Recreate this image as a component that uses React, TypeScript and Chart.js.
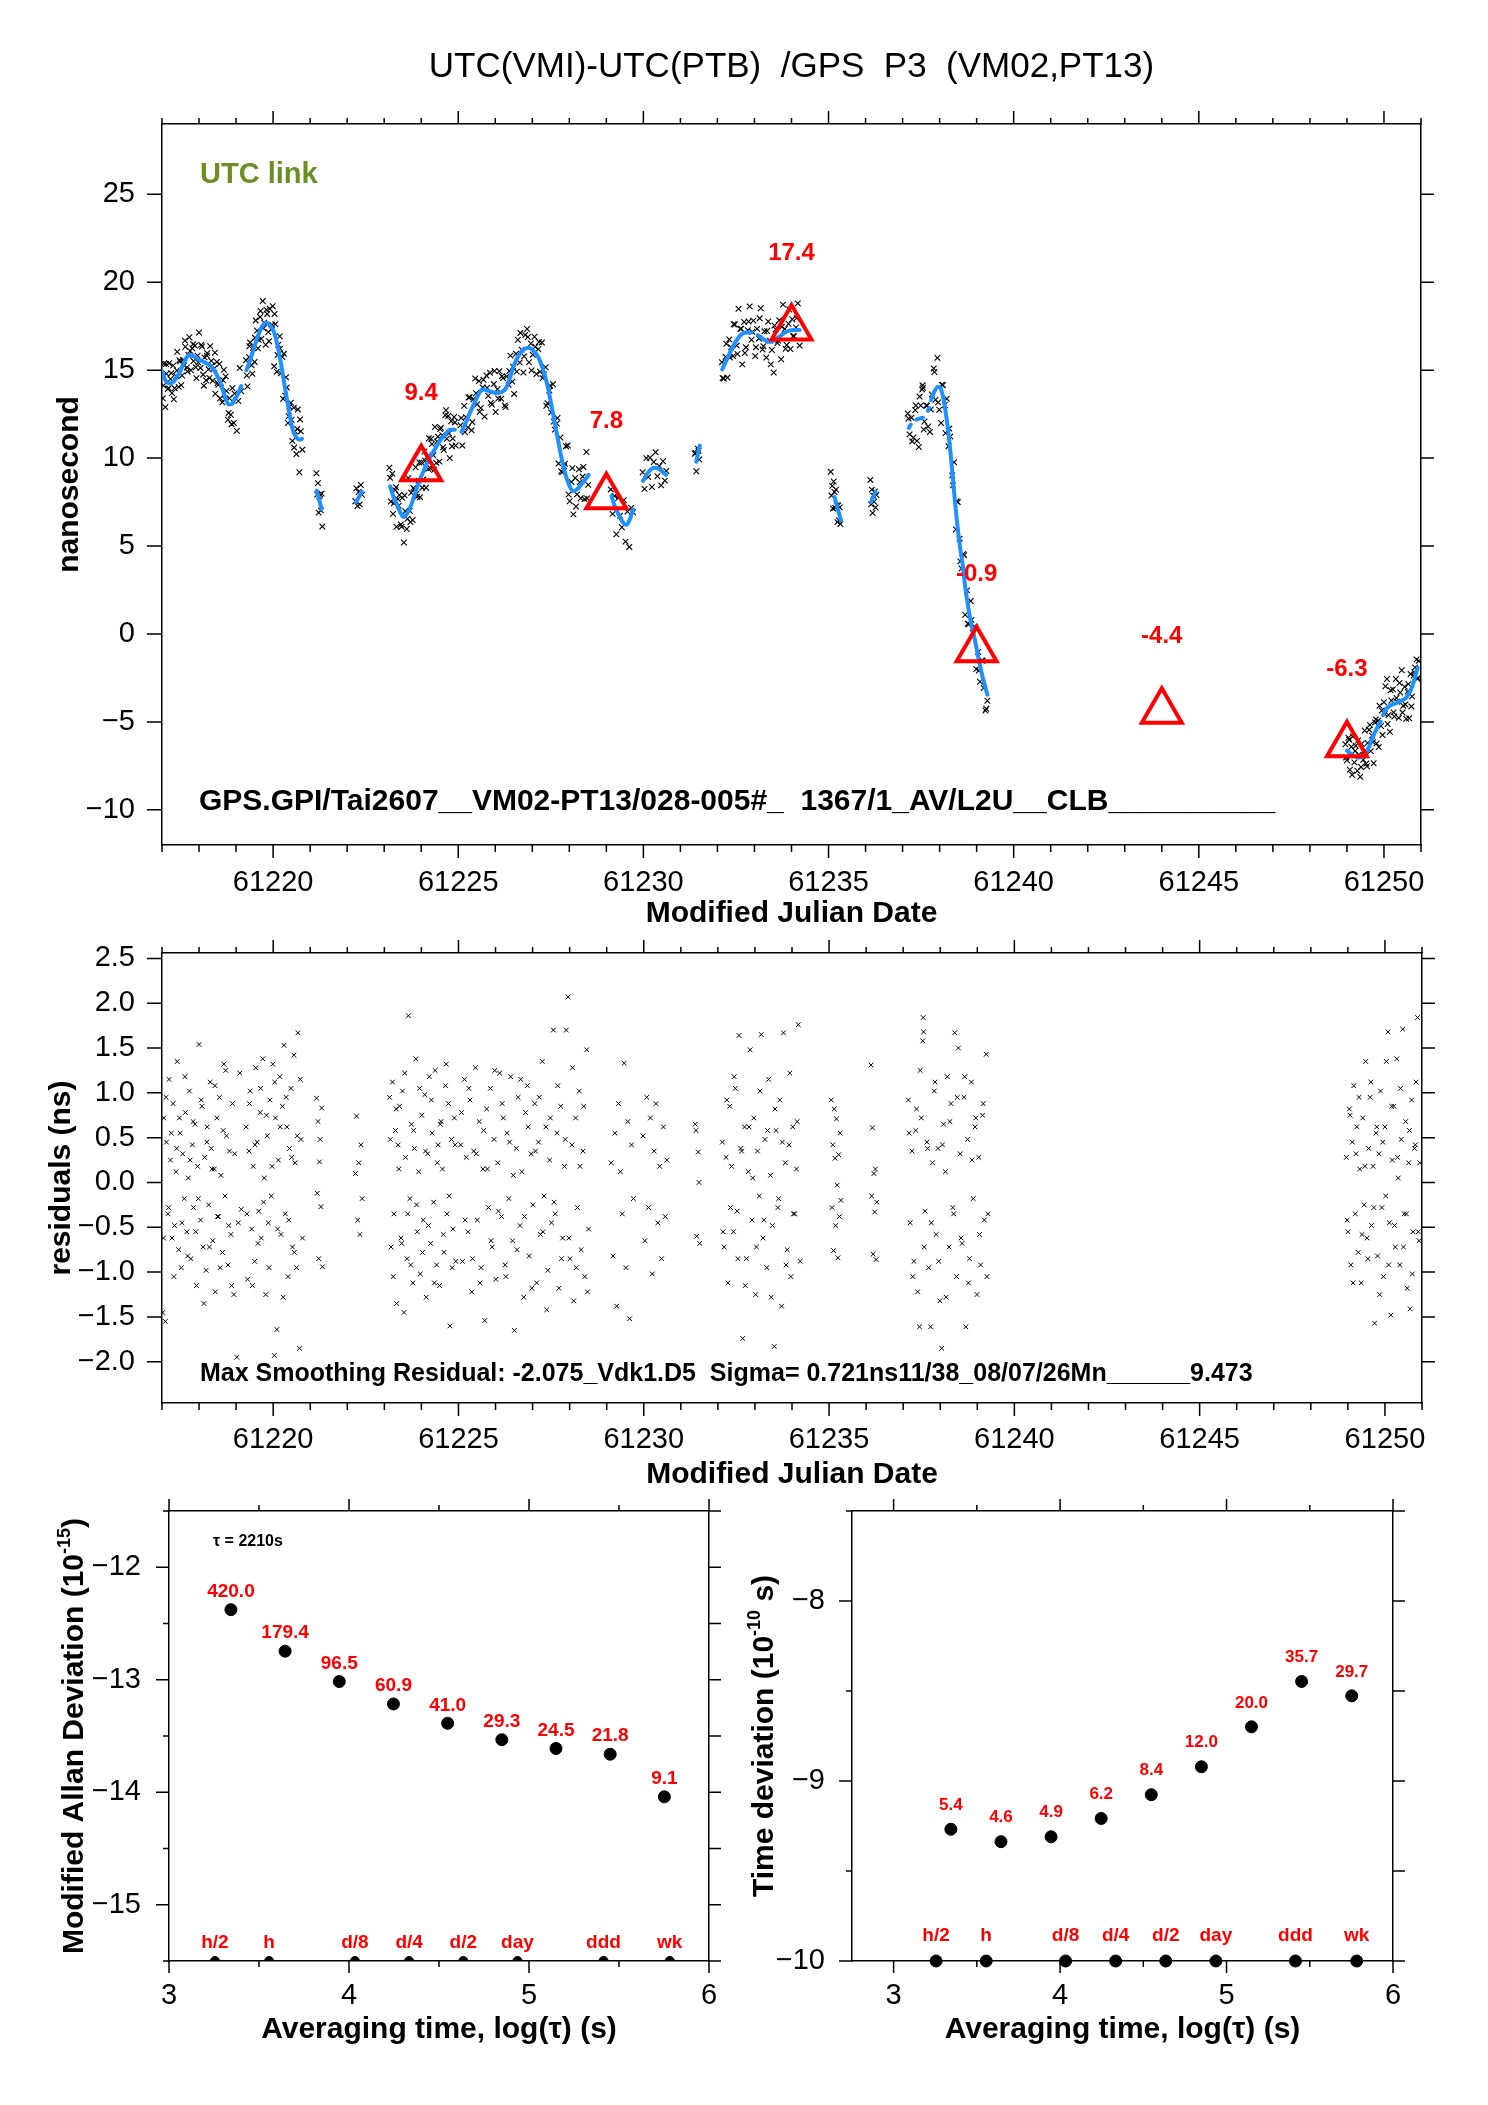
import React, { useEffect, useRef } from 'react';
import { Chart, registerables } from 'chart.js';

Chart.register(...registerables);

const FONT = "'Liberation Sans', Arial, Helvetica, sans-serif";
const RED = '#ff0000';
const BLUE = '#1e90ff';
const GREEN = '#6b8e23';

// ---------------- axis ticks ----------------
const mjdLabelTicks = [61220, 61225, 61230, 61235, 61240, 61245, 61250];
const mjdDayTicks = [61217, 61218, 61219, 61220, 61221, 61222, 61223, 61224, 61225, 61226, 61227, 61228, 61229, 61230, 61231, 61232, 61233, 61234, 61235, 61236, 61237, 61238, 61239, 61240, 61241, 61242, 61243, 61244, 61245, 61246, 61247, 61248, 61249, 61250, 61251];
const nsLabelTicks = [-10, -5, 0, 5, 10, 15, 20, 25];
const residLabelTicks = [-2.0, -1.5, -1.0, -0.5, 0.0, 0.5, 1.0, 1.5, 2.0, 2.5];
const logTauLabelTicks = [3, 4, 5, 6];
const logTauMinorTicks = [3.5, 4.5, 5.5];
const adevLabelTicks = [-15, -14, -13, -12];
const adevMinorTicks = [-15.5, -14.5, -13.5, -12.5, -11.5];
const tdevLabelTicks = [-10, -9, -8];
const tdevMinorTicks = [-9.5, -8.5, -7.5];

// ---------------- texts ----------------
const titleText = 'UTC(VMI)-UTC(PTB)  /GPS  P3  (VM02,PT13)';
const linkText = 'UTC link';
const footerText = 'GPS.GPI/Tai2607__VM02-PT13/028-005#_  1367/1_AV/L2U__CLB__________';
const residText = 'Max Smoothing Residual: -2.075_Vdk1.D5  Sigma= 0.721ns11/38_08/07/26Mn______9.473';
const tauText = '\u03c4 = 2210s';

// ---------------- observations: [MJD, raw (ns), smoothing residual (ns)] ----------------
const segA = [[61217.02,13.40,-1.45],[61217.05,15.37,0.72],[61217.09,12.90,-1.55],[61217.12,14.80,0.45],[61217.16,13.93,-0.35],[61217.19,15.40,1.15],[61217.23,14.50,0.25],[61217.27,13.70,-0.62],[61217.30,15.26,0.88],[61217.34,13.97,-0.48],[61217.38,14.67,0.12],[61217.41,16.05,1.35],[61217.45,14.05,-0.75],[61217.49,15.50,0.55],[61217.52,14.15,-0.95],[61217.56,15.57,0.32],[61217.60,15.27,-0.18],[61217.63,16.33,0.78],[61217.67,15.15,-0.55],[61217.71,15.87,0.05],[61217.74,16.87,1.02],[61217.78,15.00,-0.85],[61217.82,16.24,0.42],[61217.85,15.52,-0.28],[61217.89,16.40,0.65],[61217.93,14.55,-1.15],[61217.96,15.83,0.18],[61218.00,17.14,1.54],[61218.04,15.13,-0.42],[61218.08,16.35,0.85],[61218.11,14.75,-0.72],[61218.15,15.73,0.28],[61218.19,14.42,-0.98],[61218.22,15.97,0.62],[61218.26,15.05,-0.25],[61218.30,16.37,1.12],[61218.33,15.53,0.38],[61218.37,14.40,-0.65],[61218.41,15.10,0.15],[61218.44,13.66,-1.22],[61218.48,15.47,0.72],[61218.52,14.17,-0.38],[61218.55,15.35,0.95],[61218.59,14.28,0.08],[61218.63,13.17,-0.78],[61218.67,15.02,1.32],[61218.70,13.35,-0.15],[61218.74,13.82,0.52],[61218.78,12.18,-0.92],[61218.82,13.40,0.35],[61218.86,12.47,-0.58],[61218.90,13.98,0.88],[61218.94,12.00,-1.25]];
const segA2 = [[61219.02,11.55,-1.95],[61219.06,13.25,-0.45],[61219.10,15.12,1.22],[61219.14,13.80,-0.30]];
const segB = [[61219.27,15.57,0.62],[61219.31,14.07,-1.08],[61219.35,15.75,0.35],[61219.38,16.57,1.02],[61219.42,15.28,-0.52],[61219.46,16.28,0.18],[61219.50,15.47,-0.88],[61219.53,17.83,1.28],[61219.57,17.25,0.45],[61219.61,16.73,-0.32],[61219.65,18.03,0.78],[61219.68,16.78,-0.62],[61219.72,18.93,1.38],[61219.76,17.70,0.05],[61219.80,16.45,-1.25],[61219.84,18.20,0.52],[61219.87,17.17,-0.45],[61219.91,18.49,0.92],[61219.95,17.33,-0.15],[61219.99,18.64,1.32],[61220.03,15.22,-1.93],[61220.06,17.62,0.72],[61220.10,14.91,-1.64],[61220.14,16.45,0.25],[61220.18,16.93,1.18],[61220.21,14.82,-0.58],[61220.25,15.75,0.85],[61220.29,15.93,1.53],[61220.33,13.55,-0.35],[61220.37,14.02,0.62],[61220.40,12.00,-1.05],[61220.44,12.93,0.38],[61220.48,13.15,1.05],[61220.52,10.98,-0.72],[61220.56,12.87,1.42],[61220.59,11.52,0.22],[61220.63,10.23,-0.95],[61220.67,12.77,1.67],[61220.71,9.20,-1.85],[61220.75,11.53,0.48],[61220.79,10.48,-0.62]];
const segC = [[61221.17,9.14,0.94],[61221.19,7.93,-0.12],[61221.21,8.58,0.68],[61221.23,6.90,-0.85],[61221.25,7.83,0.23],[61221.27,7.93,0.48],[61221.29,7.03,-0.27],[61221.31,7.98,0.83],[61221.33,6.11,-0.94]];
const segD = [[61222.22,7.55,0.10],[61222.25,8.29,0.74],[61222.28,7.28,-0.42],[61222.31,8.07,0.22],[61222.34,7.37,-0.58],[61222.37,8.47,0.42],[61222.40,7.92,-0.18]];
const segE = [[61223.14,9.45,0.95],[61223.18,7.53,-0.72],[61223.22,9.12,1.12],[61223.26,7.43,-0.35],[61223.30,8.18,0.58],[61223.33,6.10,-1.35],[61223.37,7.67,0.42],[61223.41,7.90,0.85],[61223.45,6.23,-0.62],[61223.49,7.74,1.02],[61223.53,5.20,-1.45],[61223.57,6.98,0.28],[61223.61,5.97,-0.85],[61223.65,8.86,1.86],[61223.69,7.00,-0.18],[61223.73,8.03,0.65],[61223.77,6.48,-1.12],[61223.81,8.23,0.38],[61223.85,9.48,1.38],[61223.89,7.80,-0.55],[61223.93,8.72,0.12],[61223.97,7.78,-1.02],[61224.01,9.75,0.75],[61224.05,8.78,-0.42],[61224.09,10.38,0.98],[61224.13,8.32,-1.28],[61224.17,10.10,0.32],[61224.21,11.13,1.18],[61224.25,9.42,-0.68],[61224.29,10.80,0.55],[61224.33,10.16,-0.22],[61224.37,11.77,1.25],[61224.41,9.73,-0.92],[61224.45,11.22,0.42],[61224.49,9.80,-1.15],[61224.53,11.73,0.68],[61224.57,11.30,0.15],[61224.61,10.47,-0.78],[61224.65,12.43,1.08],[61224.69,11.10,-0.35],[61224.73,12.40,0.88],[61224.77,10.00,-1.60],[61224.81,12.10,0.48],[61224.85,11.11,-0.52],[61224.89,12.34,0.72],[61224.93,10.72,-0.88]];
const segF = [[61225.06,11.87,0.42],[61225.11,10.72,-0.88],[61225.16,12.97,1.15],[61225.21,12.33,0.28],[61225.26,11.75,-0.55],[61225.31,13.47,0.92],[61225.36,11.58,-1.22],[61225.41,13.35,0.35],[61225.46,14.53,1.28],[61225.51,13.06,-0.42],[61225.56,14.38,0.68],[61225.61,12.85,-0.95],[61225.66,14.02,0.15],[61225.71,12.36,-1.54],[61225.76,14.70,0.82],[61225.81,13.55,-0.28],[61225.86,14.85,1.05],[61225.91,13.05,-0.72],[61225.96,14.21,0.48],[61226.01,12.62,-1.08],[61226.06,13.92,0.22],[61226.11,14.94,1.22],[61226.16,13.38,-0.38],[61226.21,14.55,0.72],[61226.26,13.00,-0.92],[61226.31,14.65,0.55],[61226.36,14.17,-0.18],[61226.41,15.83,1.18],[61226.46,14.35,-0.65],[61226.51,13.65,-1.65],[61226.56,15.93,0.38],[61226.61,16.73,0.95],[61226.66,15.44,-0.48],[61226.71,16.17,0.12],[61226.76,14.87,-1.28],[61226.81,17.00,0.78],[61226.86,17.34,1.08],[61226.91,15.45,-0.82],[61226.96,16.52,0.32],[61227.01,15.88,-0.25],[61227.06,16.90,0.88],[61227.11,14.78,-1.12],[61227.16,16.20,0.45],[61227.21,14.92,-0.58],[61227.26,16.57,1.35],[61227.31,14.75,-0.15],[61227.36,15.17,0.62],[61227.41,13.12,-0.98],[61227.46,13.85,0.25],[61227.51,12.60,-0.45],[61227.56,14.20,1.70],[61227.61,11.62,-0.35],[61227.66,11.97,0.55],[61227.71,9.69,-1.18],[61227.76,11.17,0.85],[61227.81,9.20,-0.62],[61227.86,9.54,0.18],[61227.91,10.68,1.70],[61227.96,10.72,2.07],[61228.01,7.55,-0.85],[61228.06,8.64,0.42],[61228.11,6.80,-1.32],[61228.16,8.87,0.72],[61228.21,7.94,-0.28],[61228.26,9.37,1.02],[61228.31,7.72,-0.75],[61228.36,8.95,0.35],[61228.41,7.67,-1.05],[61228.46,10.35,1.48],[61228.51,8.48,-0.52]];
const segG = [[61229.12,8.22,0.22],[61229.17,6.83,-0.82],[61229.22,7.85,0.55],[61229.27,5.67,-1.38],[61229.32,7.73,0.88],[61229.37,6.72,0.12],[61229.42,6.07,-0.35],[61229.47,7.61,1.33],[61229.52,5.25,-0.95],[61229.57,6.96,0.68],[61229.62,4.95,-1.52],[61229.67,7.17,0.42],[61229.72,6.92,-0.18]];
const segH = [[61229.98,9.20,0.52],[61230.03,8.25,-0.65],[61230.08,10.00,0.95],[61230.13,8.92,-0.28],[61230.18,10.02,0.72],[61230.23,8.36,-1.02],[61230.28,9.78,0.35],[61230.33,10.33,0.88],[61230.38,8.97,-0.45],[61230.43,9.55,0.18],[61230.48,8.45,-0.85],[61230.53,9.82,0.62],[61230.58,8.72,-0.38],[61230.62,9.27,0.25]];
const segI = [[61231.39,10.25,0.65],[61231.41,10.30,0.58],[61231.43,9.25,-0.60],[61231.47,10.54,0.34],[61231.49,10.40,0.00],[61231.51,9.92,-0.68]];
const segJ = [[61232.12,15.45,0.45],[61232.17,14.53,-0.72],[61232.22,15.76,0.28],[61232.27,14.58,-1.12],[61232.32,16.75,0.85],[61232.37,16.30,0.18],[61232.42,15.80,-0.55],[61232.47,17.60,1.05],[61232.52,16.40,-0.32],[61232.57,18.49,1.64],[61232.62,17.35,0.38],[61232.67,15.33,-1.74],[61232.72,17.74,0.62],[61232.77,16.30,-0.85],[61232.82,17.27,0.12],[61232.87,18.63,1.48],[61232.92,16.73,-0.42],[61232.97,17.82,0.72],[61233.02,15.80,-1.25],[61233.07,17.35,0.35],[61233.12,16.80,-0.15],[61233.17,18.52,1.65],[61233.22,16.18,-0.62],[61233.27,17.21,0.48],[61233.32,15.72,-0.95],[61233.37,17.77,1.15],[61233.42,16.68,0.08],[61233.47,16.15,-0.48],[61233.52,14.87,-1.83],[61233.57,17.33,0.58],[61233.62,16.55,-0.28],[61233.67,17.84,0.92],[61233.72,15.62,-1.38],[61233.77,18.73,1.67],[61233.82,17.34,0.22],[61233.87,16.43,-0.75],[61233.92,17.64,0.42],[61233.97,16.20,-1.05],[61234.02,17.90,0.62],[61234.07,16.93,-0.35],[61234.12,17.43,0.15],[61234.17,18.80,1.76],[61234.22,16.40,-0.88]];
const segK = [[61235.06,9.22,0.92],[61235.08,7.87,-0.28],[61235.10,8.42,0.42],[61235.12,7.14,-0.76],[61235.14,8.67,0.82],[61235.16,8.07,0.27],[61235.18,7.17,-0.48],[61235.20,8.21,0.71],[61235.22,7.32,-0.03],[61235.24,6.36,-0.84],[61235.26,7.31,0.31],[61235.28,6.47,-0.38],[61235.30,7.20,0.55],[61235.32,6.25,-0.20]];
const segL = [[61236.13,8.76,1.31],[61236.15,7.37,-0.15],[61236.17,8.21,0.61],[61236.19,6.88,-0.80],[61236.21,7.86,0.10],[61236.23,7.52,-0.33],[61236.25,8.10,0.15],[61236.27,7.19,-0.86],[61236.29,7.90,-0.22]];
const segM = [[61237.14,12.54,0.92],[61237.19,11.35,-0.45],[61237.24,12.30,0.35],[61237.29,11.17,-0.88],[61237.34,12.73,0.58],[61237.39,10.98,-1.22],[61237.44,10.63,-1.61],[61237.49,12.99,0.72],[61237.53,13.90,1.58],[61237.54,14.14,1.84],[61237.55,14.00,1.68],[61237.59,12.08,-0.32],[61237.64,13.00,0.45],[61237.69,11.80,-0.95],[61237.74,11.49,-1.61],[61237.79,13.62,0.22],[61237.84,15.10,1.02],[61237.89,13.32,-0.58],[61237.94,15.70,0.38],[61237.99,12.75,-1.32],[61238.04,12.00,-1.85],[61238.09,14.15,0.65],[61238.14,13.02,0.12],[61238.19,13.38,1.18],[61238.24,10.68,-0.72],[61238.29,11.23,0.88],[61238.34,9.02,-0.28],[61238.39,9.77,1.67],[61238.44,5.95,-1.05],[61238.49,7.50,1.50],[61238.54,5.42,0.32],[61238.59,3.72,-0.68],[61238.64,4.55,0.95],[61238.69,1.09,-1.61],[61238.74,2.48,0.48],[61238.79,0.55,-0.85],[61238.84,1.87,1.12],[61238.89,0.07,-0.18],[61238.94,0.42,0.62],[61238.99,-2.00,-1.25],[61239.04,-1.02,0.28],[61239.09,-2.72,-0.92],[61239.14,-1.50,0.75],[61239.19,-3.07,-0.42],[61239.24,-4.35,1.43],[61239.29,-3.80,-0.35]];
const segN = [[61248.96,-6.27,0.28],[61249.00,-7.18,-0.55],[61249.04,-5.90,0.82],[61249.08,-7.72,-0.92],[61249.12,-6.41,0.45],[61249.16,-5.83,1.08],[61249.20,-7.30,-0.35],[61249.24,-6.36,0.62],[61249.28,-7.78,-0.78],[61249.32,-6.87,0.15],[61249.36,-8.12,-1.12],[61249.40,-6.24,0.72],[61249.44,-7.15,-0.25],[61249.48,-5.49,1.35],[61249.52,-7.37,-0.62],[61249.56,-6.20,0.38],[61249.60,-5.45,0.95],[61249.64,-6.66,-0.48],[61249.68,-5.78,0.18],[61249.72,-7.35,-1.57],[61249.76,-5.03,0.55],[61249.80,-6.22,-0.82],[61249.84,-4.93,0.32],[61249.88,-4.08,1.02],[61249.92,-5.23,-0.28],[61249.96,-5.75,-1.05],[61250.00,-3.88,0.62],[61250.04,-2.97,1.35],[61250.08,-2.56,1.68],[61250.12,-4.61,-0.45],[61250.16,-5.56,-1.48],[61250.20,-3.78,0.25],[61250.24,-3.15,0.85],[61250.28,-4.69,-0.72],[61250.32,-2.56,1.38],[61250.36,-3.85,0.05],[61250.40,-4.77,-0.92],[61250.44,-3.33,0.48],[61250.48,-2.06,1.71],[61250.52,-4.08,-0.35],[61250.56,-3.00,0.68],[61250.60,-4.82,-1.18],[61250.64,-3.28,0.22],[61250.68,-4.79,-1.41],[61250.72,-2.28,0.92],[61250.76,-3.55,-0.55],[61250.80,-2.37,0.38],[61250.84,-1.90,1.12],[61250.88,-1.45,1.84],[61250.92,-2.50,-0.65]];
// second tracking set (other satellites at interleaved epochs)
const segA_2 = [[61217.04,14.13,-0.62],[61217.11,15.35,0.95],[61217.18,13.98,-0.28],[61217.25,14.83,0.55],[61217.32,13.35,-1.05],[61217.40,14.98,0.38],[61217.47,15.57,0.72],[61217.54,14.70,-0.45],[61217.62,16.68,1.18],[61217.69,14.93,-0.82],[61217.76,16.10,0.25],[61217.84,16.48,0.68],[61217.91,15.17,-0.55],[61217.98,15.44,-0.18],[61218.06,16.44,0.92],[61218.13,14.12,-1.35],[61218.21,15.83,0.45],[61218.28,14.56,-0.72],[61218.35,15.25,0.15],[61218.43,16.00,1.08],[61218.50,14.27,-0.38],[61218.57,13.40,-0.95],[61218.65,14.43,0.58],[61218.72,14.65,1.25],[61218.80,12.57,-0.48],[61218.88,11.93,-1.15],[61218.96,13.67,0.32]];
const segB_2 = [[61219.29,14.70,-0.35],[61219.36,16.36,0.88],[61219.44,14.80,-1.15],[61219.51,16.84,0.42],[61219.59,16.25,-0.68],[61219.66,18.37,1.05],[61219.74,17.38,-0.22],[61219.82,18.44,0.75],[61219.89,16.65,-0.95],[61219.97,17.58,0.18],[61220.04,18.20,1.12],[61220.12,15.86,-0.52],[61220.19,16.22,0.62],[61220.27,13.37,-1.28],[61220.35,14.60,0.95],[61220.42,12.38,-0.42],[61220.50,12.18,0.28],[61220.57,10.60,-0.78],[61220.65,11.66,0.52],[61220.73,12.20,1.15]];
const segE_2 = [[61223.16,8.88,0.48],[61223.24,6.83,-1.05],[61223.32,8.34,0.82],[61223.39,7.30,0.15],[61223.47,6.10,-0.68],[61223.55,7.88,1.22],[61223.63,6.55,-0.35],[61223.71,6.36,-0.92],[61223.79,8.30,0.58],[61223.87,7.97,-0.25],[61223.95,9.75,1.05],[61224.03,8.32,-0.78],[61224.11,9.85,0.35],[61224.19,9.39,-0.48],[61224.27,11.10,0.92],[61224.35,9.33,-1.12],[61224.43,10.94,0.22],[61224.51,11.65,0.65],[61224.59,10.62,-0.58],[61224.67,12.72,1.32],[61224.75,11.41,-0.15],[61224.83,10.67,-0.95],[61224.91,12.03,0.42]];
const segF_2 = [[61225.08,12.28,0.78],[61225.18,11.48,-0.42],[61225.28,13.45,1.05],[61225.38,12.05,-0.85],[61225.48,13.69,0.32],[61225.58,12.63,-1.12],[61225.68,14.46,0.58],[61225.78,14.01,0.15],[61225.88,13.14,-0.65],[61225.98,14.96,1.25],[61226.08,13.39,-0.32],[61226.18,14.66,0.88],[61226.28,12.90,-1.05],[61226.38,14.95,0.45],[61226.48,15.20,0.08],[61226.58,14.92,-0.75],[61226.68,17.12,1.15],[61226.78,15.79,-0.38],[61226.88,16.89,0.62],[61226.98,14.99,-1.18],[61227.08,16.33,0.35],[61227.18,16.60,0.95],[61227.28,14.55,-0.55],[61227.38,12.98,-1.42],[61227.48,14.12,0.72],[61227.58,12.08,-0.22],[61227.68,12.28,1.08],[61227.78,9.25,-0.85],[61227.88,9.68,0.48],[61227.98,7.93,-0.62],[61228.08,9.43,1.28],[61228.18,7.25,-0.95],[61228.28,8.63,0.18],[61228.38,9.50,0.85],[61228.48,7.71,-1.22]];
const segJ_2 = [[61232.14,14.55,-0.55],[61232.24,16.50,0.92],[61232.34,15.72,-0.28],[61232.44,17.61,1.18],[61232.54,15.92,-0.85],[61232.64,17.36,0.35],[61232.74,15.98,-1.15],[61232.84,17.77,0.62],[61232.94,17.19,0.05],[61233.04,16.31,-0.72],[61233.14,17.95,1.02],[61233.24,16.36,-0.42],[61233.34,17.23,0.58],[61233.44,15.33,-1.28],[61233.54,17.54,0.82],[61233.64,16.68,-0.18],[61233.74,17.47,0.45],[61233.84,16.22,-0.92],[61233.94,18.45,1.22],[61234.04,16.93,-0.35],[61234.14,17.96,0.68]];
const segM_2 = [[61237.16,12.25,0.55],[61237.26,10.95,-1.05],[61237.36,12.99,0.82],[61237.46,13.50,1.25],[61237.57,11.63,-0.72],[61237.66,12.98,0.38],[61237.76,12.77,-0.45],[61237.86,14.90,1.12],[61237.96,13.17,-0.88],[61238.06,14.17,0.42],[61238.16,11.42,-1.28],[61238.26,11.68,0.68],[61238.36,8.45,-0.35],[61238.46,7.55,0.95],[61238.56,4.13,-0.62],[61238.66,4.48,1.18],[61238.76,0.58,-1.12],[61238.86,0.80,0.25],[61238.96,0.37,0.72],[61239.06,-2.08,-0.58],[61239.16,-1.52,0.88],[61239.26,-4.25,-1.05]];
const segN_2 = [[61248.98,-7.02,-0.42],[61249.06,-6.01,0.75],[61249.14,-8.01,-1.12],[61249.22,-6.65,0.32],[61249.30,-6.06,0.95],[61249.38,-7.56,-0.58],[61249.46,-6.69,0.18],[61249.54,-7.52,-0.85],[61249.62,-5.17,1.12],[61249.70,-6.15,-0.28],[61249.78,-4.86,0.62],[61249.86,-6.43,-1.25],[61249.94,-4.35,0.45],[61250.02,-4.55,-0.15],[61250.10,-5.12,-0.92],[61250.18,-3.20,0.85],[61250.26,-4.46,-0.48],[61250.34,-3.64,0.28],[61250.42,-2.78,1.05],[61250.50,-4.47,-0.72],[61250.58,-4.01,-0.35],[61250.66,-2.85,0.58],[61250.74,-4.12,-1.02],[61250.82,-2.18,0.42],[61250.90,-2.55,-0.55],[61250.94,-1.53,0.22]];

// ---------------- smoothed curve: [MJD, ns], one array per continuous piece ----------------
const smoothA = [[61217.00,14.95],[61217.10,14.40],[61217.22,14.25],[61217.35,14.45],[61217.48,14.90],[61217.60,15.45],[61217.72,15.85],[61217.85,15.80],[61218.00,15.60],[61218.15,15.45],[61218.30,15.25],[61218.45,14.85],[61218.58,14.25],[61218.70,13.50],[61218.80,13.05],[61218.90,13.10],[61218.97,13.40]];
const smoothA2 = [[61219.02,13.50],[61219.14,14.10]];
const smoothB = [[61219.28,15.00],[61219.40,15.70],[61219.55,16.70],[61219.68,17.40],[61219.80,17.70],[61219.92,17.55],[61220.02,17.20],[61220.12,16.40],[61220.22,15.30],[61220.32,14.00],[61220.42,12.80],[61220.52,11.70],[61220.62,11.20],[61220.72,11.05],[61220.78,11.10]];
const smoothC = [[61221.18,8.15],[61221.25,7.60],[61221.31,7.10]];
const smoothD = [[61222.24,7.50],[61222.32,7.80],[61222.39,8.10]];
const smoothE = [[61223.16,8.40],[61223.25,7.80],[61223.34,7.40],[61223.45,6.85],[61223.52,6.65],[61223.62,6.85],[61223.74,7.40],[61223.85,8.10],[61223.95,8.70],[61224.05,9.20],[61224.15,9.70],[61224.25,10.10],[61224.38,10.55],[61224.51,11.00],[61224.65,11.35],[61224.78,11.62],[61224.91,11.62]];
const smoothF = [[61225.09,11.50],[61225.20,12.00],[61225.32,12.60],[61225.45,13.20],[61225.58,13.75],[61225.70,13.90],[61225.85,13.80],[61226.03,13.70],[61226.15,13.75],[61226.28,13.95],[61226.40,14.60],[61226.50,15.25],[61226.62,15.80],[61226.75,16.15],[61226.90,16.27],[61227.03,16.10],[61227.16,15.75],[61227.28,15.10],[61227.38,14.40],[61227.48,13.40],[61227.58,12.30],[61227.68,11.20],[61227.78,10.10],[61227.88,9.20],[61227.98,8.55],[61228.10,8.12],[61228.20,8.20],[61228.30,8.45],[61228.42,8.75],[61228.52,9.05]];
const smoothG = [[61229.14,7.85],[61229.22,7.30],[61229.32,6.85],[61229.43,6.40],[61229.54,6.20],[61229.63,6.50],[61229.72,7.10]];
const smoothH = [[61229.99,8.70],[61230.10,9.10],[61230.20,9.35],[61230.31,9.45],[61230.45,9.35],[61230.61,9.05]];
const smoothI = [[61231.43,9.80],[61231.52,10.70]];
const smoothJ1 = [[61232.13,15.05],[61232.25,15.60],[61232.42,16.35],[61232.55,16.80],[61232.69,17.10],[61232.80,17.15],[61232.92,17.15]];
const smoothJ2 = [[61233.09,17.00],[61233.25,16.75],[61233.41,16.60],[61233.57,16.75],[61233.73,17.00],[61233.88,17.20],[61234.04,17.28],[61234.22,17.28]];
const smoothK = [[61235.16,7.80],[61235.25,7.10],[61235.34,6.45]];
const smoothL = [[61236.15,7.50],[61236.27,8.10]];
const smoothM1 = [[61237.17,11.72],[61237.22,11.90]];
const smoothM2 = [[61237.37,12.19],[61237.46,12.25],[61237.55,12.30]];
const smoothM3 = [[61237.68,12.70],[61237.72,12.85]];
const smoothM4 = [[61237.77,13.30],[61237.85,13.75],[61237.95,14.05],[61238.00,14.05],[61238.08,13.60],[61238.15,12.80],[61238.24,11.40],[61238.33,9.50],[61238.42,7.40],[61238.50,5.80],[61238.56,4.80],[61238.62,4.00],[61238.69,2.70],[61238.76,1.70],[61238.83,0.80],[61238.94,-0.20],[61239.06,-1.50],[61239.18,-2.60],[61239.29,-3.45]];
const smoothN1 = [[61249.00,-6.63],[61249.15,-6.90],[61249.32,-7.02],[61249.50,-6.82],[61249.60,-6.40],[61249.68,-5.96],[61249.80,-5.40],[61249.91,-4.99]];
const smoothN2 = [[61249.98,-4.60],[61250.04,-4.32],[61250.18,-4.05],[61250.32,-3.94],[61250.45,-3.80],[61250.59,-3.65],[61250.70,-3.30],[61250.78,-2.88],[61250.91,-1.92]];

// ---------------- UTC link points ----------------
const triMjd = [61224, 61229, 61234, 61239, 61244, 61249];
const triNs = [9.4, 7.8, 17.4, -0.9, -4.4, -6.3];
const triLabels = ['9.4', '7.8', '17.4', '-0.9', '-4.4', '-6.3'];

// ---------------- stability ----------------
const tauLog = [3.344, 3.645, 3.946, 4.247, 4.548, 4.849, 5.150, 5.451, 5.752];
const adevLog = [-12.377, -12.746, -13.016, -13.215, -13.387, -13.533, -13.611, -13.662, -14.041];
const adevLabels = ['420.0', '179.4', '96.5', '60.9', '41.0', '29.3', '24.5', '21.8', '9.1'];
const tdevLog = [-9.268, -9.337, -9.310, -9.208, -9.076, -8.921, -8.699, -8.447, -8.527];
const tdevLabels = ['5.4', '4.6', '4.9', '6.2', '8.4', '12.0', '20.0', '35.7', '29.7'];
const spanLog = [3.255, 3.556, 4.033, 4.334, 4.635, 4.936, 5.414, 5.782];
const spanNames = ['h/2', 'h', 'd/8', 'd/4', 'd/2', 'day', 'ddd', 'wk'];

// ---------------- ranges ----------------
const MJD_MIN = 61217, MJD_MAX = 61251;
const NS_MIN = -12, NS_MAX = 29;
const RES_MIN = -2.46, RES_MAX = 2.56;
const ADEV_MIN = -15.5, ADEV_MAX = -11.5;
const TDEV_MIN = -10, TDEV_MAX = -7.5;

// ---------------- derived datasets ----------------
const obsSegments = [segA, segA2, segB, segC, segD, segE, segF, segG, segH, segI, segJ, segK, segL, segM, segN, segA_2, segB_2, segE_2, segF_2, segJ_2, segM_2, segN_2];
const rawPoints = obsSegments.flat().map((o) => ({ x: o[0], y: o[1] }));
const residPoints = obsSegments.flat().map((o) => ({ x: o[0], y: o[2] }));
const smoothSegments = [smoothA, smoothA2, smoothB, smoothC, smoothD, smoothE, smoothF, smoothG, smoothH, smoothI, smoothJ1, smoothJ2, smoothK, smoothL, smoothM1, smoothM2, smoothM3, smoothM4, smoothN1, smoothN2];
const smoothPoints: any[] = [];
smoothSegments.forEach((seg, i) => {
  if (i > 0) smoothPoints.push({ x: seg[0][0], y: null });
  seg.forEach((p) => smoothPoints.push({ x: p[0], y: p[1] }));
});

const MINUS = '\u2212';
const fmtInt = (v: number) => (v < 0 ? MINUS + String(Math.abs(v)) : String(v));
const fmtOne = (v: number) => (v < 0 ? MINUS : '') + Math.abs(v).toFixed(1);

function axis(position: string, min: number, max: number, size: number, ticks: number[], fmt: (v: number) => string, pad: number, show = true) {
  const horizontal = position === 'top' || position === 'bottom';
  return {
    type: 'linear',
    position,
    min,
    max,
    bounds: 'data',
    offset: false,
    grid: { display: false, drawTicks: false, drawOnChartArea: false },
    border: { display: true, color: '#000', width: 1.5 },
    afterBuildTicks: (sc: any) => {
      sc.ticks = ticks.map((v) => ({ value: v }));
    },
    afterFit: (sc: any) => {
      if (horizontal) sc.height = size;
      else sc.width = size;
      sc.paddingTop = 0;
      sc.paddingBottom = 0;
      sc.paddingLeft = 0;
      sc.paddingRight = 0;
    },
    ticks: {
      display: show,
      autoSkip: false,
      maxRotation: 0,
      minRotation: 0,
      padding: pad,
      color: '#000',
      font: { family: FONT, size: 29 },
      callback: (v: any) => fmt(Number(v)),
    },
  };
}

type TickSet = { axis: string; side: string; values: number[]; len: number };

function drawTicks(chart: any, ctx: CanvasRenderingContext2D, sets: TickSet[]) {
  const a = chart.chartArea;
  ctx.save();
  ctx.strokeStyle = '#000';
  ctx.lineWidth = 1.5;
  ctx.beginPath();
  for (const s of sets) {
    const sc = chart.scales[s.axis];
    for (const v of s.values) {
      const p = sc.getPixelForValue(v);
      if (s.side === 'bottom') { ctx.moveTo(p, a.bottom); ctx.lineTo(p, a.bottom + s.len); }
      else if (s.side === 'top') { ctx.moveTo(p, a.top); ctx.lineTo(p, a.top - s.len); }
      else if (s.side === 'left') { ctx.moveTo(a.left, p); ctx.lineTo(a.left - s.len, p); }
      else { ctx.moveTo(a.right, p); ctx.lineTo(a.right + s.len, p); }
    }
  }
  ctx.stroke();
  ctx.restore();
}

function put(ctx: CanvasRenderingContext2D, s: string, x: number, y: number, size: number, bold: boolean, color = '#000', align: CanvasTextAlign = 'left', baseline: CanvasTextBaseline = 'alphabetic') {
  ctx.font = `${bold ? 'bold ' : ''}${size}px ${FONT}`;
  ctx.fillStyle = color;
  ctx.textAlign = align;
  ctx.textBaseline = baseline;
  ctx.fillText(s, x, y);
}

function vTitle(ctx: CanvasRenderingContext2D, cx: number, cy: number, parts: [string, boolean][], size: number) {
  ctx.save();
  ctx.translate(cx, cy);
  ctx.rotate(-Math.PI / 2);
  const main = `bold ${size}px ${FONT}`;
  const sup = `bold ${Math.round(size * 0.6)}px ${FONT}`;
  let total = 0;
  for (const [t, s] of parts) { ctx.font = s ? sup : main; total += ctx.measureText(t).width; }
  let x = -total / 2;
  ctx.fillStyle = '#000';
  ctx.textAlign = 'left';
  ctx.textBaseline = 'alphabetic';
  for (const [t, s] of parts) {
    ctx.font = s ? sup : main;
    ctx.fillText(t, x, s ? size * 0.35 - size * 0.42 : size * 0.35);
    x += ctx.measureText(t).width;
  }
  ctx.restore();
}

function overlay(id: string, draw: (chart: any, ctx: CanvasRenderingContext2D) => void) {
  return {
    id,
    afterDraw(chart: any) {
      const ctx = chart.ctx;
      ctx.save();
      draw(chart, ctx);
      ctx.restore();
    },
  };
}

const commonOptions = {
  responsive: false,
  animation: false,
  events: [],
  layout: { padding: 0, autoPadding: false },
  plugins: { legend: { display: false }, tooltip: { enabled: false }, title: { display: false } },
};

function mjdTickSets(): TickSet[] {
  return [
    { axis: 'x', side: 'bottom', values: mjdDayTicks, len: 7 },
    { axis: 'x', side: 'bottom', values: mjdLabelTicks, len: 13 },
    { axis: 'x', side: 'top', values: mjdDayTicks, len: 6 },
    { axis: 'x', side: 'top', values: mjdLabelTicks, len: 13 },
  ];
}

// ---------- chart 1: time series ----------
function config1(): any {
  const ticks: TickSet[] = [
    ...mjdTickSets(),
    { axis: 'y', side: 'left', values: nsLabelTicks, len: 15 },
    { axis: 'y', side: 'right', values: nsLabelTicks, len: 13 },
  ];
  return {
    type: 'scatter',
    data: {
      datasets: [
        { data: triMjd.map((x, i) => ({ x, y: triNs[i] })), xAxisID: 'x', yAxisID: 'y', pointStyle: 'triangle', pointRadius: 23, borderColor: RED, borderWidth: 4, backgroundColor: 'rgba(0,0,0,0)', order: 1 },
        { type: 'line', data: smoothPoints, xAxisID: 'x', yAxisID: 'y', borderColor: BLUE, borderWidth: 4, pointRadius: 0, spanGaps: false, cubicInterpolationMode: 'monotone', fill: false, borderCapStyle: 'round', borderJoinStyle: 'round', order: 2 },
        { data: rawPoints, xAxisID: 'x', yAxisID: 'y', pointStyle: 'crossRot', pointRadius: 4, borderColor: '#000', borderWidth: 1.1, backgroundColor: '#000', order: 3 },
      ],
    },
    options: {
      ...commonOptions,
      scales: {
        x: axis('bottom', MJD_MIN, MJD_MAX, 95, mjdLabelTicks, String, 21),
        x2: axis('top', MJD_MIN, MJD_MAX, 124, mjdLabelTicks, String, 0, false),
        y: axis('left', NS_MIN, NS_MAX, 162, nsLabelTicks, fmtInt, 27),
        y2: axis('right', NS_MIN, NS_MAX, 67, nsLabelTicks, fmtInt, 0, false),
      },
    },
    plugins: [
      overlay('ov1', (chart, ctx) => {
        drawTicks(chart, ctx, ticks);
        const xs = chart.scales.x;
        const ys = chart.scales.y;
        const a = chart.chartArea;
        triMjd.forEach((m, i) => put(ctx, triLabels[i], xs.getPixelForValue(m), ys.getPixelForValue(triNs[i]) - 75, 24, true, RED, 'center', 'middle'));
        put(ctx, titleText, (a.left + a.right) / 2, 77, 35, false, '#000', 'center');
        put(ctx, linkText, a.left + 38, 183, 29, true, GREEN);
        put(ctx, footerText, a.left + 37, 810, 30, true);
        put(ctx, 'Modified Julian Date', (a.left + a.right) / 2, 922, 30, true, '#000', 'center');
        vTitle(ctx, 67, (a.top + a.bottom) / 2, [['nanosecond', false]], 30);
      }),
    ],
  };
}

// ---------- chart 2: residuals ----------
function config2(): any {
  const ticks: TickSet[] = [
    ...mjdTickSets(),
    { axis: 'y', side: 'left', values: residLabelTicks, len: 15 },
    { axis: 'y', side: 'right', values: residLabelTicks, len: 13 },
  ];
  return {
    type: 'scatter',
    data: {
      datasets: [
        { data: residPoints, xAxisID: 'x', yAxisID: 'y', pointStyle: 'crossRot', pointRadius: 3.3, borderColor: '#000', borderWidth: 1, backgroundColor: '#000' },
      ],
    },
    options: {
      ...commonOptions,
      scales: {
        x: axis('bottom', MJD_MIN, MJD_MAX, 97, mjdLabelTicks, String, 20),
        x2: axis('top', MJD_MIN, MJD_MAX, 13, mjdLabelTicks, String, 0, false),
        y: axis('left', RES_MIN, RES_MAX, 162, residLabelTicks, fmtOne, 27),
        y2: axis('right', RES_MIN, RES_MAX, 66, residLabelTicks, fmtOne, 0, false),
      },
    },
    plugins: [
      overlay('ov2', (chart, ctx) => {
        drawTicks(chart, ctx, ticks);
        const a = chart.chartArea;
        put(ctx, residText, a.left + 38, 441, 25, true);
        put(ctx, 'Modified Julian Date', (a.left + a.right) / 2, 543, 30, true, '#000', 'center');
        vTitle(ctx, 59, (a.top + a.bottom) / 2, [['residuals (ns)', false]], 30);
      }),
    ],
  };
}

function stabTickSets(yLabel: number[], yMinor: number[]): TickSet[] {
  return [
    { axis: 'x', side: 'bottom', values: logTauLabelTicks, len: 12 },
    { axis: 'x', side: 'bottom', values: logTauMinorTicks, len: 6 },
    { axis: 'x', side: 'top', values: logTauLabelTicks, len: 12 },
    { axis: 'x', side: 'top', values: logTauMinorTicks, len: 6 },
    { axis: 'y', side: 'left', values: yLabel, len: 13 },
    { axis: 'y', side: 'left', values: yMinor, len: 6 },
    { axis: 'y', side: 'right', values: yLabel, len: 12 },
    { axis: 'y', side: 'right', values: yMinor, len: 12 },
  ];
}

// ---------- chart 3: modified Allan deviation ----------
function config3(): any {
  const ticks = stabTickSets(adevLabelTicks, adevMinorTicks);
  return {
    type: 'scatter',
    data: {
      datasets: [
        { data: tauLog.map((x, i) => ({ x, y: adevLog[i] })), xAxisID: 'x', yAxisID: 'y', pointStyle: 'circle', pointRadius: 6, backgroundColor: '#000', borderColor: '#000', borderWidth: 1 },
        { data: spanLog.map((x) => ({ x, y: ADEV_MIN })), xAxisID: 'x', yAxisID: 'y', pointStyle: 'circle', pointRadius: 4.5, backgroundColor: '#000', borderColor: '#000', borderWidth: 1, clip: 0 },
      ],
    },
    options: {
      ...commonOptions,
      scales: {
        x: axis('bottom', 3, 6, 144, logTauLabelTicks, fmtInt, 18),
        x2: axis('top', 3, 6, 21, logTauLabelTicks, fmtInt, 0, false),
        y: axis('left', ADEV_MIN, ADEV_MAX, 169, adevLabelTicks, fmtInt, 28),
        y2: axis('right', ADEV_MIN, ADEV_MAX, 36, adevLabelTicks, fmtInt, 0, false),
      },
    },
    plugins: [
      overlay('ov3', (chart, ctx) => {
        drawTicks(chart, ctx, ticks);
        const xs = chart.scales.x;
        const ys = chart.scales.y;
        const a = chart.chartArea;
        tauLog.forEach((t, i) => put(ctx, adevLabels[i], xs.getPixelForValue(t), ys.getPixelForValue(adevLog[i]) - 18, 19, true, RED, 'center', 'middle'));
        spanLog.forEach((t, i) => put(ctx, spanNames[i], xs.getPixelForValue(t), ys.getPixelForValue(ADEV_MIN) - 18, 19, true, RED, 'center', 'middle'));
        put(ctx, tauText, a.left + 44, 56, 16, true);
        put(ctx, 'Averaging time, log(\u03c4) (s)', (a.left + a.right) / 2, 548, 30, true, '#000', 'center');
        vTitle(ctx, 72, (a.top + a.bottom) / 2, [['Modified Allan Deviation (10', false], ['-15', true], [')', false]], 30);
      }),
    ],
  };
}

// ---------- chart 4: time deviation ----------
function config4(): any {
  const ticks = stabTickSets(tdevLabelTicks, tdevMinorTicks);
  return {
    type: 'scatter',
    data: {
      datasets: [
        { data: tauLog.map((x, i) => ({ x, y: tdevLog[i] })), xAxisID: 'x', yAxisID: 'y', pointStyle: 'circle', pointRadius: 6, backgroundColor: '#000', borderColor: '#000', borderWidth: 1 },
        { data: spanLog.map((x) => ({ x, y: TDEV_MIN })), xAxisID: 'x', yAxisID: 'y', pointStyle: 'circle', pointRadius: 6, backgroundColor: '#000', borderColor: '#000', borderWidth: 1, clip: false },
      ],
    },
    options: {
      ...commonOptions,
      scales: {
        x: axis('bottom', 2.75, 6, 144, logTauLabelTicks, fmtInt, 18),
        x2: axis('top', 2.75, 6, 21, logTauLabelTicks, fmtInt, 0, false),
        y: axis('left', TDEV_MIN, TDEV_MAX, 132, tdevLabelTicks, fmtInt, 27),
        y2: axis('right', TDEV_MIN, TDEV_MAX, 95, tdevLabelTicks, fmtInt, 0, false),
      },
    },
    plugins: [
      overlay('ov4', (chart, ctx) => {
        drawTicks(chart, ctx, ticks);
        const xs = chart.scales.x;
        const ys = chart.scales.y;
        const a = chart.chartArea;
        tauLog.forEach((t, i) => put(ctx, tdevLabels[i], xs.getPixelForValue(t), ys.getPixelForValue(tdevLog[i]) - 24, 17, true, RED, 'center', 'middle'));
        spanLog.forEach((t, i) => put(ctx, spanNames[i], xs.getPixelForValue(t), ys.getPixelForValue(TDEV_MIN) - 25, 19, true, RED, 'center', 'middle'));
        put(ctx, 'Averaging time, log(\u03c4) (s)', (a.left + a.right) / 2, 548, 30, true, '#000', 'center');
        vTitle(ctx, 42, (a.top + a.bottom) / 2, [['Time deviation (10', false], ['-10', true], [' s)', false]], 30);
      }),
    ],
  };
}

const canvases = [
  { left: 0, top: 0, width: 1488, height: 940, make: config1 },
  { left: 0, top: 940, width: 1488, height: 560, make: config2 },
  { left: 0, top: 1490, width: 745, height: 615, make: config3 },
  { left: 720, top: 1490, width: 768, height: 615, make: config4 },
];

export default function App() {
  const refs = [useRef<HTMLCanvasElement>(null), useRef<HTMLCanvasElement>(null), useRef<HTMLCanvasElement>(null), useRef<HTMLCanvasElement>(null)];
  useEffect(() => {
    const charts = canvases.map((c, i) => new Chart(refs[i].current as HTMLCanvasElement, c.make()));
    return () => charts.forEach((ch) => ch.destroy());
  }, []);
  return (
    <div style={{ position: 'absolute', left: 0, top: 0, width: 1488, height: 2105, background: '#fff', overflow: 'hidden' }}>
      {canvases.map((c, i) => (
        <canvas
          key={i}
          ref={refs[i]}
          width={c.width}
          height={c.height}
          style={{ position: 'absolute', left: c.left, top: c.top, width: c.width, height: c.height }}
        />
      ))}
    </div>
  );
}
